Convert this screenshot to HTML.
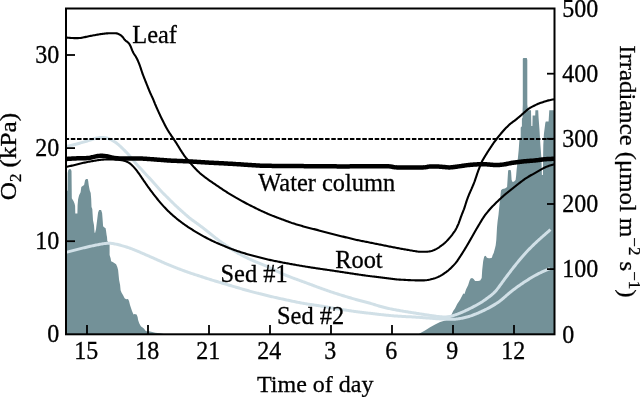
<!DOCTYPE html>
<html><head><meta charset="utf-8"><style>
html,body{margin:0;padding:0;background:#fff;width:640px;height:398px;overflow:hidden;font-family:"Liberation Serif",serif}
svg{display:block}
text{filter:grayscale(1)}
</style></head><body>
<svg width="640" height="398" viewBox="0 0 640 398">
<polygon points="66.0,334.3 66.0,190.7 67.5,190.7 67.7,173.0 68.3,170.0 69.5,169.0 70.8,169.2 71.5,171.0 71.8,198.2 73.6,201.3 74.6,203.8 75.1,206.0 75.3,213.6 77.4,213.6 77.6,205.0 78.1,199.2 79.1,195.2 80.6,192.2 81.3,187.0 82.6,186.1 84.1,185.1 85.1,180.1 86.2,179.1 87.7,179.1 88.2,181.1 88.7,185.1 89.7,190.2 90.7,193.0 91.2,199.0 91.5,207.0 92.3,209.0 93.0,220.2 94.0,225.2 94.5,232.3 95.0,233.3 96.0,229.2 97.1,220.2 98.1,212.6 99.1,210.1 101.1,210.1 102.1,213.1 102.6,219.2 103.1,226.2 104.1,227.2 105.6,228.2 106.1,231.3 106.6,235.0 107.0,237.0 107.3,241.0 109.6,244.0 109.6,255.0 110.6,258.2 111.1,261.2 113.1,262.2 116.1,264.2 117.3,267.0 118.1,270.0 118.6,275.1 119.1,280.1 120.1,285.1 120.6,290.2 121.6,292.7 123.1,295.2 124.6,298.2 126.1,299.2 128.0,299.0 129.0,301.0 130.0,305.0 131.0,308.0 132.0,311.1 133.5,314.6 134.5,314.1 136.6,314.6 137.6,317.1 138.1,320.1 139.1,323.1 140.1,325.1 141.1,326.6 142.6,327.6 144.1,328.7 145.1,330.2 146.1,331.2 149.1,331.2 151.1,331.7 155.2,332.7 160.2,333.2 165.0,334.3" fill="#739198"/>
<polygon points="418.5,334.3 420.0,333.2 425.0,330.6 430.1,327.2 435.1,324.6 440.1,322.1 445.2,320.6 450.2,317.6 453.2,311.1 455.0,308.5 457.2,304.0 460.2,299.6 463.3,293.6 464.5,294.0 466.1,289.2 468.1,285.2 469.6,280.6 470.6,278.6 472.1,278.1 473.6,279.1 475.1,281.1 478.1,281.1 480.2,280.6 481.7,278.1 482.2,270.1 483.2,261.0 484.2,256.5 485.7,255.8 486.9,257.7 488.8,258.3 490.0,258.3 491.9,257.7 492.6,255.2 493.8,252.7 495.1,247.7 495.7,245.2 496.3,240.1 497.0,227.6 497.6,221.3 498.5,214.7 500.0,199.6 501.0,190.2 502.5,189.1 505.0,188.6 507.1,187.1 508.1,171.1 508.6,170.0 510.6,170.0 511.1,172.1 511.6,180.1 512.6,182.1 514.1,181.6 515.6,180.1 516.1,176.1 516.6,170.0 517.3,164.0 518.7,150.0 519.4,140.1 520.7,137.6 520.7,127.6 521.9,126.3 521.9,118.8 522.6,117.5 522.6,110.3 522.8,104.6 522.8,58.8 523.4,57.9 526.8,57.9 527.3,60.0 527.3,104.6 528.0,110.3 531.0,110.3 531.3,126.0 532.4,126.0 532.6,115.5 535.2,115.5 535.4,110.3 538.2,110.3 538.6,118.0 539.5,130.0 540.4,145.0 541.4,158.0 541.9,175.0 542.9,175.0 543.1,158.0 543.3,145.0 543.9,134.0 545.3,123.0 545.8,121.6 548.6,121.6 549.3,110.3 554.5,110.3 554.5,334.3" fill="#739198"/>
<path d="M66.00,146.50 L66.98,146.28 L67.95,146.06 L68.93,145.84 L69.90,145.62 L70.88,145.40 L71.85,145.17 L72.82,144.94 L73.79,144.70 L74.76,144.46 L75.73,144.21 L76.70,143.96 L77.67,143.71 L78.63,143.45 L79.60,143.19 L80.56,142.92 L81.52,142.65 L82.49,142.38 L83.45,142.10 L84.41,141.82 L85.36,141.53 L86.32,141.25 L87.28,140.95 L88.23,140.65 L89.18,140.35 L90.14,140.05 L91.09,139.74 L92.04,139.43 L92.99,139.13 L93.94,138.84 L94.89,138.56 L95.85,138.30 L96.82,138.07 L97.78,137.86 L98.75,137.69 L99.72,137.56 L100.70,137.47 L101.67,137.43 L102.64,137.44 L103.61,137.50 L104.57,137.62 L105.53,137.79 L106.48,138.01 L107.42,138.27 L108.35,138.59 L109.27,138.94 L110.17,139.33 L111.07,139.75 L111.95,140.20 L112.82,140.68 L113.67,141.18 L114.51,141.71 L115.34,142.26 L116.15,142.84 L116.94,143.43 L117.72,144.05 L118.48,144.69 L119.23,145.34 L119.97,146.01 L120.70,146.69 L121.42,147.38 L122.14,148.07 L122.85,148.77 L123.56,149.48 L124.27,150.18 L124.97,150.89 L125.67,151.61 L126.37,152.32 L127.06,153.05 L127.74,153.77 L128.42,154.51 L129.08,155.25 L129.74,156.00 L130.39,156.76 L131.04,157.52 L131.67,158.29 L132.31,159.06 L132.94,159.84 L133.58,160.61 L134.21,161.38 L134.85,162.15 L135.50,162.91 L136.15,163.67 L136.81,164.42 L137.47,165.17 L138.14,165.91 L138.81,166.65 L139.49,167.38 L140.17,168.12 L140.84,168.85 L141.52,169.58 L142.20,170.32 L142.87,171.05 L143.55,171.79 L144.23,172.53 L144.90,173.26 L145.58,174.00 L146.26,174.73 L146.95,175.46 L147.63,176.18 L148.31,176.91 L149.00,177.64 L149.68,178.38 L150.36,179.11 L151.03,179.85 L151.70,180.59 L152.37,181.34 L153.03,182.08 L153.69,182.83 L154.35,183.58 L155.01,184.33 L155.67,185.09 L156.33,185.84 L156.99,186.59 L157.65,187.34 L158.32,188.08 L158.99,188.83 L159.66,189.56 L160.34,190.30 L161.03,191.02 L161.72,191.75 L162.41,192.46 L163.11,193.18 L163.82,193.89 L164.52,194.60 L165.23,195.30 L165.94,196.01 L166.65,196.71 L167.36,197.42 L168.07,198.12 L168.78,198.82 L169.49,199.53 L170.20,200.23 L170.90,200.94 L171.61,201.65 L172.32,202.35 L173.03,203.05 L173.75,203.75 L174.46,204.45 L175.18,205.14 L175.91,205.83 L176.64,206.51 L177.37,207.19 L178.11,207.87 L178.85,208.54 L179.59,209.21 L180.33,209.88 L181.08,210.55 L181.82,211.21 L182.57,211.88 L183.32,212.54 L184.07,213.21 L184.81,213.87 L185.56,214.53 L186.31,215.19 L187.07,215.85 L187.83,216.50 L188.59,217.14 L189.36,217.78 L190.14,218.40 L190.92,219.02 L191.72,219.62 L192.51,220.22 L193.32,220.81 L194.13,221.40 L194.94,221.98 L195.75,222.57 L196.56,223.15 L197.37,223.73 L198.18,224.32 L198.99,224.91 L199.80,225.50 L200.60,226.10 L201.40,226.69 L202.20,227.30 L203.00,227.90 L203.79,228.50 L204.59,229.11 L205.38,229.73 L206.16,230.34 L206.95,230.96 L207.73,231.58 L208.51,232.21 L209.29,232.84 L210.06,233.47 L210.84,234.10 L211.61,234.73 L212.39,235.36 L213.17,235.99 L213.95,236.61 L214.73,237.23 L215.52,237.85 L216.31,238.46 L217.11,239.06 L217.91,239.66 L218.71,240.26 L219.52,240.85 L220.33,241.44 L221.14,242.02 L221.95,242.60 L222.77,243.17 L223.59,243.74 L224.41,244.32 L225.23,244.89 L226.05,245.46 L226.88,246.03 L227.70,246.60 L228.52,247.17 L229.34,247.74 L230.17,248.30 L230.99,248.86 L231.83,249.41 L232.66,249.96 L233.50,250.50 L234.35,251.03 L235.20,251.56 L236.05,252.07 L236.91,252.58 L237.78,253.08 L238.65,253.57 L239.53,254.05 L240.41,254.52 L241.29,254.99 L242.18,255.45 L243.07,255.91 L243.96,256.36 L244.85,256.80 L245.75,257.25 L246.65,257.69 L247.55,258.12 L248.45,258.55 L249.35,258.98 L250.26,259.40 L251.17,259.81 L252.08,260.22 L253.00,260.62 L253.92,261.01 L254.84,261.40 L255.76,261.78 L256.69,262.16 L257.61,262.53 L258.54,262.91 L259.47,263.28 L260.40,263.66 L261.32,264.04 L262.25,264.42 L263.17,264.80 L264.09,265.18 L265.01,265.57 L265.93,265.97 L266.85,266.37 L267.76,266.78 L268.67,267.19 L269.58,267.60 L270.48,268.03 L271.39,268.46 L272.29,268.89 L273.19,269.33 L274.08,269.77 L274.98,270.22 L275.87,270.66 L276.77,271.11 L277.67,271.55 L278.56,271.99 L279.46,272.42 L280.37,272.85 L281.27,273.27 L282.18,273.68 L283.10,274.09 L284.01,274.48 L284.93,274.87 L285.86,275.25 L286.79,275.62 L287.72,275.99 L288.65,276.35 L289.58,276.71 L290.51,277.07 L291.45,277.43 L292.38,277.78 L293.32,278.13 L294.25,278.49 L295.19,278.84 L296.13,279.18 L297.07,279.53 L298.01,279.87 L298.95,280.21 L299.89,280.56 L300.83,280.90 L301.77,281.24 L302.71,281.58 L303.65,281.92 L304.59,282.26 L305.53,282.60 L306.46,282.94 L307.40,283.29 L308.34,283.63 L309.28,283.98 L310.22,284.33 L311.15,284.68 L312.09,285.03 L313.03,285.38 L313.96,285.73 L314.90,286.08 L315.84,286.43 L316.77,286.78 L317.71,287.13 L318.65,287.47 L319.59,287.81 L320.53,288.16 L321.47,288.50 L322.41,288.83 L323.35,289.17 L324.30,289.51 L325.24,289.84 L326.18,290.17 L327.12,290.50 L328.07,290.83 L329.01,291.16 L329.96,291.48 L330.91,291.81 L331.85,292.12 L332.80,292.44 L333.75,292.75 L334.70,293.06 L335.65,293.37 L336.61,293.67 L337.56,293.97 L338.51,294.27 L339.47,294.57 L340.42,294.87 L341.38,295.16 L342.33,295.46 L343.29,295.75 L344.25,296.05 L345.20,296.34 L346.16,296.63 L347.12,296.92 L348.08,297.20 L349.03,297.49 L349.99,297.77 L350.95,298.06 L351.91,298.34 L352.87,298.62 L353.83,298.90 L354.79,299.17 L355.75,299.44 L356.72,299.71 L357.68,299.98 L358.65,300.24 L359.61,300.49 L360.58,300.74 L361.55,300.99 L362.52,301.24 L363.49,301.49 L364.46,301.73 L365.42,301.98 L366.39,302.23 L367.36,302.49 L368.32,302.75 L369.29,303.02 L370.25,303.29 L371.21,303.57 L372.16,303.86 L373.12,304.16 L374.07,304.46 L375.02,304.76 L375.98,305.06 L376.93,305.36 L377.88,305.66 L378.84,305.96 L379.79,306.25 L380.75,306.53 L381.71,306.80 L382.68,307.06 L383.64,307.31 L384.61,307.55 L385.58,307.79 L386.56,308.01 L387.53,308.22 L388.51,308.44 L389.49,308.64 L390.47,308.85 L391.45,309.04 L392.43,309.24 L393.41,309.43 L394.39,309.62 L395.37,309.81 L396.36,309.99 L397.34,310.17 L398.32,310.35 L399.31,310.52 L400.29,310.69 L401.28,310.86 L402.26,311.03 L403.25,311.19 L404.24,311.36 L405.22,311.52 L406.21,311.68 L407.20,311.84 L408.18,312.00 L409.17,312.16 L410.16,312.32 L411.15,312.48 L412.13,312.64 L413.12,312.79 L414.11,312.95 L415.10,313.10 L416.09,313.25 L417.07,313.40 L418.06,313.56 L419.05,313.71 L420.04,313.86 L421.03,314.01 L422.02,314.16 L423.01,314.31 L423.99,314.46 L424.98,314.61 L425.97,314.76 L426.96,314.92 L427.95,315.07 L428.94,315.22 L429.92,315.37 L430.91,315.53 L431.90,315.68 L432.89,315.82 L433.88,315.97 L434.87,316.10 L435.86,316.24 L436.85,316.37 L437.84,316.49 L438.83,316.60 L439.83,316.71 L440.82,316.80 L441.81,316.87 L442.80,316.92 L443.79,316.94 L444.78,316.94 L445.76,316.90 L446.75,316.83 L447.73,316.72 L448.71,316.58 L449.68,316.41 L450.65,316.21 L451.62,315.98 L452.58,315.72 L453.54,315.45 L454.49,315.15 L455.44,314.84 L456.38,314.52 L457.32,314.18 L458.25,313.82 L459.18,313.46 L460.11,313.08 L461.03,312.70 L461.95,312.31 L462.86,311.91 L463.78,311.50 L464.69,311.08 L465.59,310.66 L466.50,310.23 L467.40,309.80 L468.30,309.37 L469.20,308.93 L470.09,308.48 L470.98,308.03 L471.88,307.58 L472.76,307.12 L473.65,306.66 L474.54,306.20 L475.42,305.73 L476.30,305.25 L477.17,304.77 L478.04,304.28 L478.91,303.78 L479.76,303.27 L480.62,302.75 L481.46,302.22 L482.30,301.68 L483.13,301.12 L483.96,300.56 L484.78,299.99 L485.60,299.42 L486.41,298.84 L487.22,298.25 L488.02,297.66 L488.82,297.06 L489.62,296.45 L490.40,295.84 L491.18,295.22 L491.95,294.59 L492.70,293.94 L493.43,293.28 L494.15,292.59 L494.85,291.89 L495.52,291.16 L496.17,290.42 L496.81,289.66 L497.43,288.88 L498.04,288.10 L498.64,287.30 L499.24,286.50 L499.83,285.69 L500.42,284.89 L501.00,284.08 L501.59,283.27 L502.18,282.46 L502.77,281.65 L503.36,280.84 L503.95,280.04 L504.54,279.23 L505.13,278.43 L505.73,277.62 L506.33,276.82 L506.93,276.02 L507.53,275.23 L508.14,274.43 L508.74,273.63 L509.35,272.84 L509.96,272.04 L510.56,271.25 L511.17,270.45 L511.78,269.66 L512.39,268.87 L513.00,268.08 L513.62,267.29 L514.23,266.50 L514.85,265.72 L515.48,264.94 L516.11,264.16 L516.74,263.38 L517.37,262.61 L518.00,261.84 L518.64,261.07 L519.28,260.30 L519.92,259.53 L520.56,258.76 L521.21,258.00 L521.85,257.23 L522.50,256.47 L523.15,255.72 L523.81,254.96 L524.47,254.21 L525.14,253.47 L525.81,252.73 L526.49,252.00 L527.18,251.27 L527.87,250.55 L528.56,249.83 L529.26,249.12 L529.96,248.40 L530.66,247.69 L531.37,246.98 L532.08,246.28 L532.79,245.57 L533.50,244.87 L534.22,244.18 L534.94,243.49 L535.66,242.80 L536.39,242.11 L537.13,241.44 L537.86,240.76 L538.60,240.09 L539.35,239.42 L540.09,238.75 L540.84,238.08 L541.58,237.42 L542.33,236.75 L543.08,236.09 L543.82,235.43 L544.57,234.77 L545.32,234.11 L546.07,233.46 L546.81,232.81 L547.55,232.16 L548.29,231.52 L549.03,230.88 L549.77,230.24 L550.50,229.60" fill="none" stroke="#d1e0e7" stroke-width="3.0" stroke-linejoin="round"/>
<path d="M66.00,252.40 L66.97,252.14 L67.93,251.89 L68.90,251.63 L69.87,251.37 L70.83,251.12 L71.80,250.86 L72.77,250.61 L73.73,250.35 L74.70,250.10 L75.67,249.85 L76.64,249.60 L77.61,249.36 L78.58,249.11 L79.55,248.87 L80.52,248.63 L81.49,248.39 L82.46,248.15 L83.43,247.91 L84.40,247.68 L85.38,247.45 L86.35,247.22 L87.32,246.99 L88.30,246.76 L89.27,246.54 L90.25,246.32 L91.22,246.11 L92.20,245.89 L93.18,245.69 L94.16,245.48 L95.13,245.29 L96.11,245.09 L97.09,244.90 L98.07,244.71 L99.05,244.52 L100.03,244.33 L101.01,244.14 L101.99,243.96 L102.97,243.79 L103.94,243.63 L104.93,243.50 L105.91,243.39 L106.89,243.31 L107.88,243.27 L108.87,243.26 L109.85,243.29 L110.84,243.36 L111.82,243.45 L112.81,243.58 L113.79,243.73 L114.77,243.91 L115.74,244.11 L116.72,244.32 L117.69,244.55 L118.66,244.79 L119.62,245.04 L120.59,245.30 L121.55,245.57 L122.52,245.84 L123.48,246.11 L124.43,246.40 L125.39,246.68 L126.35,246.98 L127.30,247.28 L128.25,247.59 L129.19,247.91 L130.13,248.25 L131.07,248.59 L132.01,248.94 L132.94,249.30 L133.86,249.68 L134.79,250.05 L135.71,250.44 L136.63,250.82 L137.56,251.21 L138.48,251.60 L139.40,251.99 L140.32,252.38 L141.23,252.78 L142.15,253.17 L143.07,253.57 L143.99,253.97 L144.91,254.37 L145.82,254.77 L146.74,255.17 L147.65,255.57 L148.57,255.97 L149.48,256.37 L150.40,256.78 L151.31,257.18 L152.23,257.58 L153.14,257.99 L154.06,258.39 L154.97,258.80 L155.89,259.21 L156.80,259.61 L157.71,260.02 L158.63,260.43 L159.54,260.83 L160.45,261.24 L161.37,261.65 L162.28,262.06 L163.19,262.46 L164.11,262.86 L165.03,263.27 L165.94,263.66 L166.86,264.06 L167.78,264.45 L168.70,264.84 L169.63,265.22 L170.55,265.60 L171.48,265.98 L172.40,266.35 L173.33,266.73 L174.26,267.10 L175.19,267.47 L176.12,267.83 L177.05,268.20 L177.98,268.56 L178.92,268.92 L179.85,269.27 L180.79,269.62 L181.72,269.97 L182.66,270.31 L183.60,270.65 L184.55,270.99 L185.49,271.32 L186.43,271.66 L187.37,271.99 L188.32,272.32 L189.26,272.65 L190.21,272.97 L191.15,273.30 L192.10,273.62 L193.05,273.94 L194.00,274.25 L194.95,274.56 L195.90,274.88 L196.85,275.18 L197.80,275.49 L198.75,275.80 L199.70,276.11 L200.65,276.41 L201.61,276.72 L202.56,277.03 L203.51,277.34 L204.46,277.65 L205.41,277.96 L206.36,278.27 L207.31,278.58 L208.26,278.88 L209.22,279.19 L210.17,279.49 L211.12,279.79 L212.08,280.09 L213.03,280.38 L213.99,280.67 L214.95,280.96 L215.91,281.24 L216.86,281.53 L217.82,281.81 L218.78,282.10 L219.74,282.38 L220.70,282.67 L221.66,282.95 L222.62,283.23 L223.58,283.52 L224.53,283.80 L225.49,284.09 L226.45,284.37 L227.41,284.65 L228.37,284.94 L229.33,285.22 L230.29,285.51 L231.25,285.79 L232.21,286.07 L233.16,286.36 L234.12,286.64 L235.08,286.92 L236.04,287.21 L237.00,287.49 L237.96,287.78 L238.92,288.06 L239.88,288.34 L240.84,288.63 L241.80,288.91 L242.76,289.19 L243.72,289.47 L244.68,289.74 L245.64,290.02 L246.60,290.29 L247.56,290.56 L248.53,290.82 L249.49,291.08 L250.46,291.34 L251.43,291.59 L252.39,291.85 L253.36,292.10 L254.33,292.35 L255.30,292.59 L256.27,292.84 L257.24,293.09 L258.21,293.33 L259.18,293.58 L260.14,293.82 L261.11,294.07 L262.08,294.31 L263.05,294.55 L264.03,294.80 L265.00,295.04 L265.97,295.28 L266.94,295.52 L267.91,295.75 L268.88,295.99 L269.85,296.23 L270.82,296.46 L271.80,296.69 L272.77,296.91 L273.75,297.14 L274.72,297.36 L275.70,297.58 L276.67,297.79 L277.65,298.01 L278.63,298.22 L279.60,298.43 L280.58,298.64 L281.56,298.86 L282.54,299.07 L283.51,299.28 L284.49,299.49 L285.47,299.70 L286.45,299.91 L287.42,300.13 L288.40,300.34 L289.38,300.55 L290.36,300.76 L291.33,300.97 L292.31,301.18 L293.29,301.38 L294.27,301.59 L295.25,301.79 L296.23,301.99 L297.21,302.19 L298.19,302.38 L299.17,302.57 L300.15,302.76 L301.14,302.94 L302.12,303.12 L303.10,303.30 L304.09,303.47 L305.07,303.64 L306.06,303.81 L307.04,303.97 L308.03,304.13 L309.02,304.28 L310.01,304.43 L311.00,304.58 L311.99,304.72 L312.98,304.86 L313.97,305.00 L314.96,305.13 L315.95,305.27 L316.94,305.42 L317.93,305.56 L318.92,305.71 L319.90,305.86 L320.89,306.02 L321.88,306.19 L322.86,306.35 L323.85,306.52 L324.83,306.70 L325.82,306.87 L326.80,307.05 L327.78,307.23 L328.77,307.40 L329.75,307.58 L330.74,307.75 L331.72,307.92 L332.71,308.09 L333.70,308.25 L334.68,308.41 L335.67,308.57 L336.66,308.72 L337.65,308.88 L338.63,309.03 L339.62,309.18 L340.61,309.33 L341.60,309.48 L342.59,309.63 L343.58,309.78 L344.57,309.93 L345.55,310.08 L346.54,310.23 L347.53,310.38 L348.52,310.53 L349.51,310.68 L350.50,310.83 L351.49,310.98 L352.48,311.13 L353.47,311.27 L354.46,311.42 L355.44,311.56 L356.44,311.69 L357.43,311.83 L358.42,311.96 L359.41,312.08 L360.40,312.20 L361.39,312.32 L362.39,312.44 L363.38,312.55 L364.37,312.67 L365.37,312.78 L366.36,312.89 L367.36,313.01 L368.35,313.12 L369.34,313.24 L370.34,313.35 L371.33,313.47 L372.32,313.58 L373.32,313.70 L374.31,313.82 L375.30,313.94 L376.29,314.05 L377.29,314.17 L378.28,314.29 L379.27,314.40 L380.27,314.52 L381.26,314.63 L382.26,314.74 L383.25,314.84 L384.24,314.95 L385.24,315.05 L386.23,315.15 L387.23,315.25 L388.22,315.34 L389.22,315.44 L390.21,315.53 L391.21,315.62 L392.21,315.71 L393.20,315.80 L394.20,315.88 L395.20,315.96 L396.19,316.03 L397.19,316.10 L398.19,316.17 L399.19,316.24 L400.18,316.30 L401.18,316.36 L402.18,316.42 L403.18,316.47 L404.18,316.53 L405.18,316.58 L406.17,316.63 L407.17,316.67 L408.17,316.72 L409.17,316.77 L410.17,316.81 L411.17,316.86 L412.17,316.91 L413.17,316.96 L414.16,317.01 L415.16,317.07 L416.16,317.14 L417.16,317.20 L418.15,317.27 L419.15,317.34 L420.15,317.42 L421.15,317.50 L422.14,317.57 L423.14,317.65 L424.14,317.73 L425.13,317.81 L426.13,317.89 L427.13,317.97 L428.12,318.05 L429.12,318.12 L430.12,318.20 L431.12,318.28 L432.11,318.35 L433.11,318.43 L434.11,318.50 L435.10,318.57 L436.10,318.64 L437.10,318.70 L438.10,318.77 L439.10,318.83 L440.09,318.89 L441.09,318.94 L442.09,318.99 L443.09,319.04 L444.09,319.09 L445.09,319.13 L446.09,319.17 L447.09,319.20 L448.08,319.23 L449.08,319.25 L450.08,319.26 L451.08,319.26 L452.08,319.25 L453.07,319.23 L454.07,319.19 L455.07,319.13 L456.06,319.06 L457.05,318.96 L458.04,318.85 L459.03,318.71 L460.01,318.56 L460.99,318.39 L461.97,318.21 L462.95,318.01 L463.92,317.79 L464.89,317.56 L465.86,317.31 L466.83,317.05 L467.79,316.78 L468.74,316.49 L469.69,316.20 L470.64,315.88 L471.59,315.56 L472.53,315.22 L473.46,314.88 L474.40,314.52 L475.33,314.16 L476.25,313.79 L477.18,313.41 L478.10,313.02 L479.02,312.63 L479.93,312.23 L480.85,311.82 L481.75,311.40 L482.66,310.98 L483.56,310.55 L484.46,310.11 L485.36,309.67 L486.25,309.22 L487.14,308.77 L488.03,308.31 L488.91,307.84 L489.79,307.37 L490.66,306.88 L491.53,306.39 L492.40,305.89 L493.26,305.39 L494.12,304.87 L494.97,304.35 L495.82,303.82 L496.66,303.29 L497.49,302.74 L498.31,302.18 L499.13,301.60 L499.93,301.01 L500.72,300.41 L501.50,299.79 L502.26,299.15 L503.02,298.51 L503.78,297.86 L504.53,297.20 L505.28,296.54 L506.03,295.88 L506.78,295.22 L507.53,294.56 L508.29,293.91 L509.06,293.27 L509.83,292.63 L510.60,292.00 L511.38,291.38 L512.17,290.76 L512.96,290.15 L513.75,289.54 L514.55,288.94 L515.35,288.34 L516.15,287.75 L516.96,287.16 L517.78,286.58 L518.59,286.00 L519.41,285.43 L520.23,284.86 L521.06,284.29 L521.88,283.73 L522.71,283.16 L523.54,282.61 L524.37,282.05 L525.21,281.51 L526.05,280.96 L526.89,280.43 L527.73,279.89 L528.58,279.36 L529.43,278.84 L530.29,278.32 L531.14,277.80 L532.00,277.29 L532.86,276.79 L533.73,276.29 L534.60,275.79 L535.47,275.31 L536.35,274.83 L537.23,274.37 L538.12,273.90 L539.01,273.45 L539.90,273.00 L540.80,272.56 L541.69,272.13 L542.59,271.71 L543.48,271.29 L544.38,270.89 L545.26,270.51 L546.14,270.13 L547.01,269.77 L547.88,269.43 L548.73,269.09 L549.58,268.76 L550.00,268.60" fill="none" stroke="#d1e0e7" stroke-width="3.0" stroke-linejoin="round"/>
<line x1="66" y1="139" x2="554.5" y2="139" stroke="#000" stroke-width="2.1" stroke-dasharray="4.5 1.702" stroke-dashoffset="1.39"/>
<path d="M66.00,159.00 L67.00,158.93 L68.00,158.86 L68.99,158.79 L69.99,158.72 L70.99,158.65 L71.99,158.59 L72.98,158.53 L73.98,158.47 L74.98,158.43 L75.98,158.39 L76.98,158.37 L77.98,158.35 L78.98,158.33 L79.98,158.31 L80.98,158.30 L81.98,158.28 L82.98,158.26 L83.98,158.24 L84.98,158.21 L85.97,158.17 L86.97,158.09 L87.96,157.99 L88.95,157.86 L89.93,157.71 L90.92,157.53 L91.89,157.32 L92.86,157.09 L93.83,156.85 L94.80,156.61 L95.77,156.39 L96.75,156.21 L97.73,156.06 L98.72,155.94 L99.72,155.87 L100.71,155.83 L101.71,155.82 L102.70,155.85 L103.70,155.91 L104.69,155.99 L105.68,156.11 L106.66,156.27 L107.64,156.47 L108.61,156.69 L109.58,156.92 L110.56,157.15 L111.53,157.37 L112.51,157.58 L113.49,157.78 L114.47,157.95 L115.46,158.10 L116.45,158.22 L117.44,158.30 L118.44,158.37 L119.43,158.41 L120.43,158.45 L121.43,158.48 L122.43,158.51 L123.43,158.54 L124.43,158.56 L125.43,158.58 L126.43,158.58 L127.43,158.58 L128.43,158.58 L129.43,158.57 L130.43,158.57 L131.43,158.56 L132.43,158.56 L133.43,158.55 L134.43,158.54 L135.43,158.54 L136.43,158.53 L137.43,158.53 L138.43,158.52 L139.43,158.52 L140.43,158.53 L141.43,158.55 L142.43,158.58 L143.43,158.63 L144.42,158.69 L145.42,158.76 L146.42,158.83 L147.41,158.91 L148.41,158.98 L149.41,159.06 L150.41,159.13 L151.40,159.21 L152.40,159.28 L153.40,159.35 L154.40,159.43 L155.39,159.50 L156.39,159.58 L157.39,159.65 L158.38,159.73 L159.38,159.80 L160.38,159.88 L161.38,159.95 L162.37,160.03 L163.37,160.10 L164.37,160.18 L165.36,160.25 L166.36,160.33 L167.36,160.40 L168.36,160.47 L169.35,160.53 L170.35,160.59 L171.35,160.65 L172.35,160.69 L173.35,160.74 L174.35,160.78 L175.35,160.82 L176.35,160.86 L177.35,160.90 L178.34,160.94 L179.34,160.98 L180.34,161.02 L181.34,161.06 L182.34,161.10 L183.34,161.14 L184.34,161.19 L185.34,161.23 L186.34,161.27 L187.34,161.31 L188.34,161.36 L189.33,161.41 L190.33,161.46 L191.33,161.52 L192.33,161.58 L193.33,161.65 L194.32,161.71 L195.32,161.78 L196.32,161.85 L197.32,161.91 L198.32,161.98 L199.31,162.04 L200.31,162.11 L201.31,162.18 L202.31,162.24 L203.30,162.31 L204.30,162.37 L205.30,162.44 L206.30,162.50 L207.30,162.56 L208.30,162.62 L209.29,162.67 L210.29,162.72 L211.29,162.77 L212.29,162.82 L213.29,162.87 L214.29,162.92 L215.29,162.97 L216.29,163.02 L217.28,163.07 L218.28,163.12 L219.28,163.17 L220.28,163.22 L221.28,163.27 L222.28,163.32 L223.28,163.37 L224.27,163.43 L225.27,163.48 L226.27,163.53 L227.27,163.59 L228.27,163.64 L229.27,163.69 L230.27,163.75 L231.26,163.81 L232.26,163.87 L233.26,163.93 L234.26,163.99 L235.26,164.05 L236.25,164.12 L237.25,164.18 L238.25,164.25 L239.25,164.31 L240.25,164.37 L241.24,164.44 L242.24,164.50 L243.24,164.57 L244.24,164.63 L245.24,164.69 L246.23,164.76 L247.23,164.82 L248.23,164.89 L249.23,164.95 L250.23,165.01 L251.22,165.08 L252.22,165.14 L253.22,165.21 L254.22,165.27 L255.22,165.33 L256.21,165.40 L257.21,165.46 L258.21,165.52 L259.21,165.59 L260.21,165.65 L261.20,165.70 L262.20,165.74 L263.20,165.78 L264.20,165.80 L265.20,165.82 L266.20,165.83 L267.20,165.84 L268.20,165.85 L269.20,165.85 L270.20,165.86 L271.20,165.87 L272.20,165.88 L273.20,165.89 L274.20,165.89 L275.20,165.90 L276.20,165.91 L277.20,165.92 L278.20,165.93 L279.20,165.93 L280.20,165.94 L281.20,165.95 L282.20,165.96 L283.20,165.97 L284.20,165.97 L285.20,165.98 L286.20,165.99 L287.20,166.00 L288.20,166.01 L289.20,166.01 L290.20,166.02 L291.20,166.03 L292.20,166.04 L293.20,166.05 L294.20,166.05 L295.20,166.06 L296.20,166.07 L297.20,166.08 L298.20,166.09 L299.20,166.09 L300.20,166.10 L301.20,166.11 L302.20,166.12 L303.20,166.12 L304.20,166.13 L305.20,166.14 L306.20,166.15 L307.20,166.15 L308.20,166.16 L309.20,166.17 L310.20,166.18 L311.20,166.18 L312.20,166.19 L313.20,166.20 L314.20,166.21 L315.20,166.21 L316.20,166.22 L317.20,166.23 L318.20,166.24 L319.20,166.24 L320.20,166.25 L321.20,166.26 L322.20,166.27 L323.20,166.27 L324.20,166.28 L325.20,166.29 L326.20,166.30 L327.20,166.30 L328.20,166.31 L329.20,166.32 L330.20,166.33 L331.20,166.33 L332.20,166.34 L333.20,166.35 L334.20,166.36 L335.20,166.36 L336.20,166.37 L337.20,166.38 L338.20,166.38 L339.20,166.39 L340.20,166.39 L341.20,166.39 L342.20,166.39 L343.20,166.39 L344.20,166.39 L345.20,166.39 L346.20,166.38 L347.20,166.38 L348.20,166.38 L349.20,166.38 L350.20,166.37 L351.20,166.37 L352.20,166.37 L353.20,166.37 L354.20,166.36 L355.20,166.36 L356.20,166.36 L357.20,166.36 L358.20,166.35 L359.20,166.35 L360.20,166.35 L361.20,166.35 L362.20,166.34 L363.20,166.34 L364.20,166.34 L365.20,166.34 L366.20,166.33 L367.20,166.33 L368.20,166.33 L369.20,166.33 L370.20,166.32 L371.20,166.32 L372.20,166.32 L373.20,166.32 L374.20,166.31 L375.20,166.31 L376.20,166.31 L377.20,166.31 L378.20,166.31 L379.20,166.30 L380.20,166.30 L381.20,166.30 L382.20,166.30 L383.20,166.30 L384.20,166.30 L385.20,166.30 L386.20,166.30 L387.20,166.31 L388.19,166.32 L389.19,166.37 L390.17,166.45 L391.15,166.59 L392.11,166.77 L393.08,166.97 L394.05,167.15 L395.03,167.29 L396.01,167.37 L397.01,167.42 L398.00,167.44 L399.00,167.46 L400.00,167.47 L401.00,167.49 L402.00,167.50 L403.00,167.51 L404.00,167.53 L405.00,167.54 L406.00,167.55 L407.00,167.56 L408.00,167.57 L409.00,167.58 L410.00,167.58 L411.00,167.58 L412.00,167.57 L413.00,167.56 L414.00,167.55 L415.00,167.54 L416.00,167.52 L417.00,167.51 L418.00,167.50 L419.00,167.49 L420.00,167.47 L421.00,167.46 L422.00,167.44 L423.00,167.42 L423.99,167.37 L424.98,167.29 L425.95,167.15 L426.92,166.98 L427.89,166.78 L428.86,166.61 L429.83,166.49 L430.82,166.42 L431.81,166.40 L432.80,166.41 L433.80,166.43 L434.80,166.46 L435.80,166.49 L436.80,166.52 L437.80,166.55 L438.80,166.59 L439.80,166.65 L440.79,166.72 L441.79,166.81 L442.78,166.90 L443.78,167.00 L444.77,167.11 L445.77,167.21 L446.76,167.30 L447.76,167.37 L448.75,167.41 L449.74,167.41 L450.74,167.36 L451.73,167.27 L452.72,167.16 L453.71,167.04 L454.70,166.91 L455.70,166.79 L456.69,166.66 L457.68,166.52 L458.67,166.39 L459.66,166.25 L460.65,166.11 L461.64,165.96 L462.63,165.81 L463.62,165.67 L464.61,165.52 L465.60,165.38 L466.59,165.24 L467.58,165.12 L468.57,165.01 L469.57,164.91 L470.56,164.82 L471.56,164.74 L472.55,164.67 L473.55,164.60 L474.55,164.52 L475.55,164.46 L476.54,164.40 L477.54,164.36 L478.54,164.33 L479.54,164.31 L480.54,164.30 L481.54,164.30 L482.54,164.30 L483.54,164.30 L484.54,164.31 L485.54,164.33 L486.54,164.36 L487.54,164.41 L488.53,164.48 L489.53,164.57 L490.52,164.66 L491.52,164.76 L492.51,164.85 L493.51,164.95 L494.50,165.03 L495.50,165.09 L496.49,165.12 L497.49,165.11 L498.48,165.06 L499.47,164.97 L500.46,164.86 L501.46,164.74 L502.45,164.61 L503.44,164.47 L504.43,164.33 L505.41,164.16 L506.39,163.98 L507.38,163.79 L508.36,163.59 L509.33,163.39 L510.31,163.19 L511.30,163.01 L512.28,162.84 L513.27,162.68 L514.26,162.54 L515.25,162.41 L516.24,162.29 L517.23,162.16 L518.23,162.04 L519.22,161.92 L520.21,161.79 L521.20,161.67 L522.20,161.55 L523.19,161.44 L524.18,161.33 L525.18,161.23 L526.17,161.14 L527.17,161.05 L528.17,160.98 L529.16,160.91 L530.16,160.83 L531.16,160.76 L532.16,160.69 L533.15,160.62 L534.15,160.54 L535.15,160.46 L536.14,160.36 L537.13,160.24 L538.12,160.12 L539.12,159.98 L540.11,159.84 L541.10,159.70 L542.09,159.57 L543.08,159.45 L544.07,159.35 L545.07,159.26 L546.06,159.18 L547.06,159.12 L548.06,159.06 L549.06,159.01 L550.05,158.95 L551.05,158.89 L552.04,158.84 L553.03,158.78 L554.01,158.73 L554.50,158.70" fill="none" stroke="#000" stroke-width="4.5" stroke-linejoin="round"/>
<path d="M66.00,37.60 L67.00,37.67 L68.00,37.74 L68.99,37.81 L69.99,37.88 L70.99,37.95 L71.99,38.01 L72.98,38.07 L73.98,38.12 L74.98,38.14 L75.98,38.14 L76.98,38.12 L77.98,38.09 L78.97,38.04 L79.97,37.97 L80.96,37.86 L81.94,37.71 L82.92,37.52 L83.90,37.31 L84.88,37.10 L85.85,36.88 L86.83,36.68 L87.81,36.48 L88.79,36.28 L89.77,36.09 L90.76,35.90 L91.74,35.72 L92.72,35.53 L93.70,35.34 L94.69,35.16 L95.67,34.97 L96.65,34.78 L97.63,34.60 L98.62,34.42 L99.60,34.26 L100.59,34.10 L101.58,33.97 L102.57,33.84 L103.56,33.71 L104.56,33.60 L105.55,33.50 L106.55,33.42 L107.55,33.36 L108.54,33.32 L109.54,33.28 L110.54,33.25 L111.54,33.23 L112.54,33.21 L113.54,33.21 L114.54,33.22 L115.53,33.27 L116.50,33.38 L117.45,33.60 L118.37,33.93 L119.26,34.36 L120.11,34.86 L120.92,35.42 L121.69,36.04 L122.40,36.72 L123.04,37.46 L123.62,38.25 L124.18,39.05 L124.78,39.81 L125.46,40.49 L126.22,41.10 L127.01,41.68 L127.79,42.28 L128.49,42.95 L129.10,43.70 L129.64,44.52 L130.13,45.38 L130.56,46.28 L130.96,47.19 L131.33,48.12 L131.69,49.05 L132.06,49.98 L132.45,50.90 L132.86,51.81 L133.31,52.70 L133.80,53.56 L134.33,54.40 L134.89,55.22 L135.44,56.04 L135.97,56.89 L136.45,57.76 L136.91,58.65 L137.34,59.55 L137.76,60.45 L138.16,61.37 L138.55,62.29 L138.93,63.22 L139.29,64.15 L139.65,65.08 L139.98,66.02 L140.31,66.97 L140.63,67.92 L140.94,68.87 L141.25,69.82 L141.57,70.76 L141.88,71.71 L142.20,72.66 L142.53,73.60 L142.88,74.54 L143.23,75.48 L143.60,76.41 L143.96,77.34 L144.33,78.27 L144.70,79.20 L145.07,80.13 L145.44,81.06 L145.81,81.99 L146.18,82.92 L146.55,83.84 L146.92,84.77 L147.29,85.70 L147.66,86.63 L148.03,87.56 L148.40,88.49 L148.78,89.42 L149.15,90.34 L149.53,91.27 L149.92,92.19 L150.32,93.10 L150.73,94.01 L151.16,94.92 L151.58,95.82 L152.01,96.73 L152.43,97.63 L152.84,98.55 L153.24,99.46 L153.62,100.39 L154.00,101.31 L154.37,102.24 L154.74,103.17 L155.11,104.10 L155.50,105.02 L155.89,105.94 L156.29,106.86 L156.69,107.77 L157.10,108.69 L157.51,109.60 L157.92,110.51 L158.33,111.42 L158.75,112.33 L159.16,113.24 L159.58,114.15 L159.99,115.06 L160.42,115.96 L160.85,116.87 L161.29,117.77 L161.73,118.66 L162.18,119.56 L162.63,120.45 L163.07,121.34 L163.52,122.24 L163.97,123.13 L164.42,124.03 L164.87,124.92 L165.33,125.81 L165.79,126.69 L166.27,127.57 L166.76,128.44 L167.26,129.31 L167.77,130.17 L168.29,131.02 L168.82,131.87 L169.36,132.71 L169.91,133.54 L170.46,134.38 L171.02,135.21 L171.58,136.04 L172.14,136.86 L172.71,137.69 L173.27,138.51 L173.84,139.34 L174.40,140.17 L174.96,140.99 L175.52,141.82 L176.06,142.66 L176.60,143.51 L177.12,144.36 L177.64,145.21 L178.16,146.07 L178.68,146.92 L179.20,147.78 L179.72,148.63 L180.24,149.48 L180.78,150.33 L181.32,151.17 L181.86,152.01 L182.41,152.84 L182.97,153.67 L183.52,154.51 L184.08,155.33 L184.65,156.15 L185.25,156.96 L185.86,157.74 L186.50,158.51 L187.15,159.27 L187.80,160.02 L188.46,160.78 L189.11,161.54 L189.76,162.30 L190.41,163.06 L191.06,163.82 L191.71,164.58 L192.36,165.34 L193.01,166.10 L193.67,166.85 L194.34,167.59 L195.03,168.31 L195.73,169.03 L196.44,169.73 L197.14,170.44 L197.85,171.15 L198.56,171.85 L199.28,172.55 L200.01,173.22 L200.77,173.88 L201.54,174.51 L202.32,175.13 L203.11,175.74 L203.91,176.35 L204.70,176.96 L205.49,177.57 L206.29,178.18 L207.08,178.78 L207.89,179.37 L208.70,179.96 L209.52,180.53 L210.34,181.10 L211.17,181.66 L211.99,182.23 L212.82,182.79 L213.65,183.35 L214.47,183.92 L215.30,184.48 L216.12,185.04 L216.95,185.60 L217.78,186.17 L218.61,186.73 L219.43,187.29 L220.26,187.85 L221.09,188.41 L221.92,188.97 L222.75,189.53 L223.57,190.09 L224.41,190.65 L225.24,191.19 L226.09,191.73 L226.94,192.26 L227.79,192.78 L228.65,193.29 L229.50,193.81 L230.36,194.33 L231.22,194.84 L232.07,195.36 L232.93,195.87 L233.79,196.39 L234.65,196.89 L235.51,197.40 L236.38,197.89 L237.25,198.38 L238.13,198.87 L239.00,199.36 L239.87,199.84 L240.75,200.33 L241.62,200.81 L242.50,201.30 L243.37,201.78 L244.25,202.27 L245.12,202.75 L246.00,203.23 L246.88,203.70 L247.77,204.17 L248.66,204.62 L249.55,205.07 L250.44,205.52 L251.34,205.97 L252.23,206.42 L253.13,206.86 L254.02,207.31 L254.91,207.76 L255.81,208.20 L256.70,208.65 L257.60,209.10 L258.49,209.54 L259.39,209.98 L260.30,210.41 L261.20,210.83 L262.11,211.25 L263.02,211.66 L263.93,212.07 L264.85,212.48 L265.76,212.89 L266.67,213.30 L267.58,213.71 L268.50,214.12 L269.41,214.51 L270.34,214.90 L271.26,215.27 L272.20,215.63 L273.13,215.99 L274.07,216.34 L275.00,216.70 L275.93,217.06 L276.87,217.41 L277.80,217.77 L278.74,218.12 L279.68,218.47 L280.61,218.82 L281.55,219.17 L282.49,219.52 L283.43,219.86 L284.36,220.21 L285.30,220.55 L286.24,220.90 L287.18,221.24 L288.12,221.59 L289.06,221.93 L290.00,222.28 L290.94,222.62 L291.88,222.95 L292.83,223.26 L293.78,223.57 L294.74,223.86 L295.69,224.14 L296.65,224.43 L297.61,224.71 L298.57,225.00 L299.53,225.28 L300.49,225.56 L301.45,225.85 L302.41,226.13 L303.37,226.41 L304.33,226.69 L305.29,226.95 L306.26,227.20 L307.23,227.45 L308.20,227.69 L309.17,227.93 L310.14,228.17 L311.11,228.42 L312.08,228.66 L313.05,228.90 L314.02,229.14 L314.99,229.38 L315.96,229.62 L316.93,229.87 L317.90,230.13 L318.86,230.39 L319.83,230.65 L320.79,230.92 L321.75,231.19 L322.72,231.46 L323.68,231.73 L324.64,232.00 L325.61,232.27 L326.57,232.54 L327.53,232.81 L328.50,233.07 L329.46,233.33 L330.43,233.59 L331.40,233.83 L332.37,234.07 L333.34,234.30 L334.31,234.54 L335.29,234.77 L336.26,235.00 L337.23,235.24 L338.20,235.47 L339.18,235.70 L340.15,235.94 L341.12,236.17 L342.09,236.41 L343.06,236.64 L344.03,236.88 L345.01,237.12 L345.98,237.36 L346.95,237.60 L347.92,237.84 L348.89,238.08 L349.86,238.32 L350.83,238.57 L351.80,238.81 L352.77,239.04 L353.74,239.28 L354.72,239.51 L355.69,239.72 L356.67,239.93 L357.65,240.13 L358.63,240.33 L359.61,240.52 L360.59,240.72 L361.57,240.91 L362.55,241.11 L363.53,241.31 L364.51,241.50 L365.49,241.70 L366.48,241.90 L367.46,242.09 L368.44,242.29 L369.42,242.48 L370.40,242.68 L371.38,242.88 L372.36,243.07 L373.34,243.27 L374.32,243.46 L375.30,243.66 L376.28,243.86 L377.26,244.05 L378.24,244.25 L379.22,244.44 L380.20,244.64 L381.18,244.84 L382.16,245.03 L383.15,245.23 L384.13,245.43 L385.11,245.62 L386.09,245.82 L387.07,246.01 L388.05,246.21 L389.03,246.41 L390.01,246.60 L390.99,246.80 L391.97,246.99 L392.95,247.19 L393.93,247.39 L394.91,247.58 L395.89,247.78 L396.87,247.97 L397.86,248.15 L398.84,248.33 L399.83,248.51 L400.81,248.68 L401.79,248.86 L402.78,249.03 L403.76,249.20 L404.75,249.38 L405.73,249.55 L406.72,249.72 L407.70,249.90 L408.69,250.07 L409.67,250.24 L410.66,250.41 L411.64,250.58 L412.63,250.75 L413.62,250.92 L414.60,251.08 L415.59,251.25 L416.57,251.41 L417.56,251.56 L418.55,251.67 L419.55,251.74 L420.54,251.78 L421.54,251.80 L422.54,251.80 L423.54,251.80 L424.54,251.80 L425.54,251.78 L426.54,251.75 L427.53,251.67 L428.52,251.55 L429.50,251.38 L430.48,251.18 L431.44,250.95 L432.40,250.67 L433.33,250.33 L434.24,249.94 L435.15,249.52 L436.04,249.08 L436.93,248.61 L437.79,248.11 L438.63,247.57 L439.45,247.01 L440.26,246.42 L441.06,245.83 L441.87,245.24 L442.68,244.65 L443.48,244.05 L444.26,243.43 L445.02,242.79 L445.74,242.11 L446.44,241.39 L447.11,240.66 L447.79,239.92 L448.45,239.17 L449.12,238.43 L449.78,237.68 L450.44,236.93 L451.08,236.16 L451.69,235.37 L452.29,234.57 L452.87,233.76 L453.45,232.94 L454.02,232.12 L454.59,231.30 L455.14,230.47 L455.66,229.62 L456.14,228.75 L456.60,227.86 L457.03,226.96 L457.45,226.05 L457.87,225.14 L458.27,224.23 L458.65,223.31 L459.01,222.37 L459.35,221.43 L459.69,220.49 L460.02,219.55 L460.35,218.60 L460.68,217.66 L461.02,216.72 L461.36,215.78 L461.72,214.85 L462.08,213.91 L462.45,212.99 L462.82,212.06 L463.19,211.13 L463.56,210.20 L463.92,209.27 L464.26,208.33 L464.59,207.38 L464.90,206.43 L465.20,205.48 L465.50,204.53 L465.79,203.57 L466.09,202.61 L466.39,201.66 L466.70,200.71 L467.03,199.77 L467.37,198.83 L467.72,197.89 L468.08,196.96 L468.43,196.02 L468.80,195.09 L469.18,194.17 L469.58,193.25 L469.99,192.34 L470.40,191.43 L470.81,190.52 L471.21,189.60 L471.62,188.69 L472.01,187.77 L472.40,186.85 L472.79,185.93 L473.18,185.00 L473.56,184.08 L473.94,183.16 L474.30,182.22 L474.65,181.29 L474.98,180.35 L475.31,179.40 L475.63,178.45 L475.95,177.50 L476.26,176.56 L476.58,175.61 L476.90,174.66 L477.22,173.71 L477.54,172.77 L477.87,171.82 L478.21,170.88 L478.55,169.94 L478.91,169.01 L479.27,168.08 L479.64,167.15 L480.00,166.22 L480.37,165.29 L480.74,164.36 L481.11,163.43 L481.50,162.51 L481.92,161.60 L482.37,160.72 L482.86,159.85 L483.37,158.99 L483.88,158.13 L484.40,157.27 L484.92,156.42 L485.44,155.56 L485.96,154.71 L486.48,153.86 L487.00,153.00 L487.53,152.16 L488.07,151.31 L488.61,150.47 L489.16,149.64 L489.71,148.80 L490.26,147.97 L490.81,147.13 L491.36,146.30 L491.91,145.46 L492.47,144.63 L493.04,143.81 L493.61,142.99 L494.21,142.19 L494.81,141.39 L495.41,140.59 L496.02,139.80 L496.62,139.00 L497.23,138.20 L497.84,137.41 L498.45,136.62 L499.07,135.84 L499.71,135.07 L500.35,134.30 L500.99,133.54 L501.64,132.77 L502.29,132.01 L502.94,131.25 L503.59,130.50 L504.26,129.75 L504.94,129.02 L505.63,128.30 L506.34,127.60 L507.05,126.89 L507.77,126.19 L508.48,125.50 L509.21,124.81 L509.95,124.14 L510.71,123.50 L511.50,122.89 L512.30,122.29 L513.11,121.70 L513.92,121.12 L514.73,120.53 L515.53,119.93 L516.32,119.32 L517.10,118.69 L517.86,118.05 L518.62,117.40 L519.38,116.75 L520.14,116.10 L520.90,115.44 L521.65,114.79 L522.40,114.13 L523.15,113.46 L523.90,112.80 L524.64,112.13 L525.39,111.46 L526.13,110.80 L526.88,110.13 L527.64,109.49 L528.42,108.88 L529.24,108.31 L530.09,107.80 L530.97,107.33 L531.85,106.88 L532.75,106.43 L533.64,105.98 L534.54,105.53 L535.43,105.09 L536.33,104.65 L537.23,104.22 L538.15,103.82 L539.07,103.45 L540.01,103.10 L540.95,102.78 L541.90,102.45 L542.85,102.13 L543.79,101.82 L544.74,101.50 L545.69,101.19 L546.65,100.89 L547.61,100.61 L548.57,100.37 L549.55,100.16 L550.53,99.96 L551.50,99.77 L552.44,99.59 L553.32,99.43 L554.12,99.27 L554.50,99.20" fill="none" stroke="#000" stroke-width="2.1" stroke-linejoin="round"/>
<path d="M66.00,167.00 L66.97,166.77 L67.95,166.55 L68.92,166.32 L69.90,166.09 L70.87,165.87 L71.84,165.64 L72.82,165.41 L73.79,165.18 L74.76,164.95 L75.74,164.72 L76.71,164.49 L77.68,164.25 L78.65,164.02 L79.63,163.78 L80.60,163.55 L81.57,163.32 L82.54,163.08 L83.52,162.85 L84.49,162.63 L85.47,162.41 L86.44,162.20 L87.42,162.00 L88.40,161.81 L89.38,161.62 L90.37,161.44 L91.35,161.27 L92.34,161.10 L93.32,160.93 L94.31,160.77 L95.30,160.60 L96.28,160.44 L97.27,160.29 L98.26,160.14 L99.25,160.00 L100.24,159.87 L101.23,159.76 L102.22,159.66 L103.22,159.58 L104.22,159.51 L105.21,159.46 L106.21,159.42 L107.21,159.40 L108.21,159.39 L109.21,159.40 L110.21,159.41 L111.21,159.43 L112.20,159.46 L113.20,159.49 L114.20,159.53 L115.20,159.59 L116.20,159.65 L117.19,159.72 L118.19,159.80 L119.18,159.90 L120.17,160.02 L121.16,160.15 L122.14,160.32 L123.11,160.51 L124.07,160.75 L125.01,161.03 L125.94,161.36 L126.85,161.74 L127.74,162.16 L128.60,162.63 L129.43,163.16 L130.23,163.72 L131.00,164.33 L131.75,164.98 L132.46,165.66 L133.16,166.37 L133.83,167.11 L134.49,167.86 L135.13,168.62 L135.76,169.39 L136.38,170.17 L137.00,170.96 L137.60,171.76 L138.19,172.57 L138.77,173.38 L139.35,174.19 L139.92,175.02 L140.49,175.84 L141.05,176.66 L141.61,177.49 L142.17,178.32 L142.74,179.15 L143.30,179.97 L143.86,180.80 L144.43,181.62 L144.99,182.45 L145.56,183.27 L146.13,184.09 L146.71,184.91 L147.28,185.73 L147.86,186.55 L148.44,187.36 L149.02,188.17 L149.61,188.98 L150.20,189.79 L150.80,190.59 L151.40,191.39 L152.00,192.19 L152.61,192.98 L153.22,193.77 L153.83,194.56 L154.45,195.35 L155.06,196.14 L155.68,196.92 L156.31,197.70 L156.93,198.48 L157.56,199.26 L158.19,200.04 L158.83,200.81 L159.47,201.58 L160.11,202.34 L160.76,203.10 L161.42,203.85 L162.08,204.60 L162.75,205.35 L163.42,206.09 L164.09,206.83 L164.77,207.56 L165.46,208.29 L166.15,209.01 L166.85,209.72 L167.56,210.43 L168.27,211.13 L168.98,211.83 L169.71,212.52 L170.44,213.20 L171.17,213.88 L171.91,214.55 L172.66,215.21 L173.41,215.87 L174.17,216.52 L174.93,217.17 L175.70,217.81 L176.47,218.45 L177.25,219.07 L178.03,219.70 L178.81,220.32 L179.60,220.93 L180.39,221.54 L181.19,222.15 L181.99,222.75 L182.80,223.34 L183.60,223.93 L184.42,224.51 L185.24,225.08 L186.06,225.65 L186.89,226.21 L187.72,226.77 L188.55,227.32 L189.39,227.86 L190.23,228.41 L191.07,228.94 L191.92,229.47 L192.77,230.00 L193.62,230.53 L194.47,231.05 L195.33,231.56 L196.19,232.08 L197.05,232.59 L197.91,233.10 L198.77,233.60 L199.64,234.11 L200.50,234.60 L201.37,235.10 L202.24,235.59 L203.12,236.08 L203.99,236.56 L204.87,237.04 L205.75,237.51 L206.63,237.98 L207.52,238.45 L208.40,238.91 L209.30,239.36 L210.19,239.81 L211.09,240.25 L211.99,240.68 L212.89,241.11 L213.80,241.54 L214.70,241.95 L215.61,242.37 L216.53,242.77 L217.44,243.17 L218.36,243.57 L219.28,243.97 L220.20,244.36 L221.12,244.75 L222.04,245.13 L222.97,245.52 L223.89,245.90 L224.82,246.28 L225.74,246.66 L226.67,247.04 L227.59,247.41 L228.52,247.79 L229.45,248.16 L230.38,248.52 L231.31,248.88 L232.25,249.23 L233.19,249.57 L234.13,249.91 L235.07,250.24 L236.02,250.56 L236.97,250.88 L237.92,251.20 L238.87,251.51 L239.82,251.82 L240.77,252.13 L241.72,252.43 L242.67,252.74 L243.63,253.04 L244.58,253.33 L245.54,253.62 L246.50,253.91 L247.46,254.19 L248.42,254.46 L249.38,254.74 L250.34,255.01 L251.31,255.27 L252.27,255.53 L253.24,255.79 L254.21,256.04 L255.17,256.29 L256.14,256.55 L257.11,256.79 L258.08,257.04 L259.05,257.29 L260.02,257.54 L260.99,257.78 L261.96,258.03 L262.93,258.27 L263.90,258.51 L264.87,258.75 L265.84,258.98 L266.81,259.22 L267.78,259.45 L268.76,259.67 L269.73,259.89 L270.71,260.11 L271.69,260.32 L272.67,260.52 L273.65,260.72 L274.63,260.92 L275.61,261.12 L276.59,261.32 L277.57,261.51 L278.55,261.71 L279.53,261.90 L280.51,262.10 L281.49,262.29 L282.47,262.48 L283.46,262.66 L284.44,262.85 L285.42,263.03 L286.40,263.22 L287.39,263.40 L288.37,263.58 L289.35,263.76 L290.34,263.94 L291.32,264.12 L292.31,264.30 L293.29,264.48 L294.27,264.65 L295.26,264.83 L296.24,265.00 L297.23,265.17 L298.21,265.34 L299.20,265.50 L300.19,265.67 L301.17,265.84 L302.16,266.00 L303.15,266.17 L304.13,266.33 L305.12,266.49 L306.11,266.66 L307.09,266.82 L308.08,266.97 L309.07,267.13 L310.06,267.28 L311.04,267.44 L312.03,267.59 L313.02,267.74 L314.01,267.89 L315.00,268.04 L315.99,268.19 L316.98,268.34 L317.96,268.49 L318.95,268.64 L319.94,268.78 L320.93,268.93 L321.92,269.07 L322.91,269.22 L323.90,269.36 L324.89,269.50 L325.88,269.65 L326.87,269.79 L327.86,269.93 L328.85,270.08 L329.84,270.22 L330.83,270.36 L331.82,270.51 L332.81,270.65 L333.80,270.80 L334.79,270.95 L335.77,271.10 L336.76,271.25 L337.75,271.40 L338.74,271.55 L339.73,271.70 L340.72,271.85 L341.71,272.00 L342.69,272.15 L343.68,272.30 L344.67,272.45 L345.66,272.60 L346.65,272.75 L347.64,272.90 L348.63,273.05 L349.62,273.19 L350.61,273.34 L351.59,273.49 L352.58,273.64 L353.57,273.79 L354.56,273.94 L355.55,274.09 L356.54,274.24 L357.53,274.39 L358.52,274.53 L359.50,274.68 L360.49,274.83 L361.48,274.98 L362.47,275.12 L363.46,275.27 L364.45,275.41 L365.44,275.54 L366.43,275.68 L367.42,275.81 L368.42,275.93 L369.41,276.06 L370.40,276.18 L371.39,276.30 L372.39,276.42 L373.38,276.54 L374.37,276.66 L375.36,276.78 L376.36,276.90 L377.35,277.02 L378.34,277.14 L379.34,277.27 L380.33,277.39 L381.32,277.51 L382.31,277.64 L383.30,277.76 L384.30,277.89 L385.29,278.01 L386.28,278.14 L387.27,278.27 L388.26,278.39 L389.26,278.52 L390.25,278.65 L391.24,278.77 L392.23,278.90 L393.23,279.02 L394.22,279.13 L395.21,279.24 L396.21,279.34 L397.20,279.44 L398.20,279.52 L399.19,279.59 L400.19,279.65 L401.19,279.71 L402.19,279.77 L403.19,279.82 L404.18,279.87 L405.18,279.92 L406.18,279.98 L407.18,280.03 L408.18,280.08 L409.18,280.12 L410.18,280.17 L411.18,280.21 L412.18,280.25 L413.17,280.28 L414.17,280.31 L415.17,280.34 L416.17,280.36 L417.17,280.38 L418.17,280.39 L419.17,280.41 L420.17,280.42 L421.17,280.42 L422.17,280.40 L423.17,280.38 L424.16,280.33 L425.16,280.27 L426.15,280.18 L427.14,280.07 L428.13,279.93 L429.11,279.76 L430.08,279.57 L431.05,279.34 L432.01,279.09 L432.97,278.82 L433.92,278.52 L434.87,278.21 L435.81,277.88 L436.74,277.53 L437.66,277.15 L438.56,276.75 L439.45,276.32 L440.33,275.85 L441.19,275.35 L442.04,274.84 L442.88,274.30 L443.71,273.75 L444.54,273.20 L445.36,272.63 L446.17,272.05 L446.97,271.45 L447.76,270.84 L448.53,270.21 L449.28,269.56 L450.02,268.89 L450.75,268.20 L451.46,267.51 L452.17,266.81 L452.87,266.09 L453.56,265.37 L454.24,264.64 L454.90,263.90 L455.54,263.14 L456.16,262.36 L456.76,261.57 L457.35,260.76 L457.92,259.94 L458.48,259.11 L459.03,258.28 L459.58,257.45 L460.13,256.61 L460.68,255.78 L461.22,254.94 L461.76,254.09 L462.29,253.25 L462.82,252.40 L463.35,251.55 L463.88,250.70 L464.40,249.85 L464.92,249.00 L465.44,248.14 L465.96,247.28 L466.47,246.43 L466.98,245.56 L467.48,244.70 L467.99,243.84 L468.49,242.98 L468.99,242.11 L469.49,241.24 L469.99,240.38 L470.49,239.51 L470.98,238.64 L471.48,237.77 L471.97,236.90 L472.46,236.03 L472.95,235.16 L473.44,234.29 L473.93,233.41 L474.42,232.54 L474.92,231.68 L475.42,230.81 L475.92,229.94 L476.42,229.08 L476.93,228.22 L477.44,227.36 L477.95,226.50 L478.46,225.64 L478.97,224.78 L479.48,223.92 L479.99,223.06 L480.50,222.20 L481.02,221.34 L481.54,220.49 L482.06,219.64 L482.59,218.79 L483.13,217.95 L483.68,217.11 L484.24,216.29 L484.82,215.48 L485.42,214.68 L486.03,213.89 L486.64,213.10 L487.27,212.33 L487.90,211.55 L488.54,210.79 L489.19,210.02 L489.85,209.27 L490.51,208.53 L491.19,207.79 L491.87,207.06 L492.56,206.34 L493.25,205.62 L493.95,204.91 L494.66,204.19 L495.36,203.49 L496.07,202.78 L496.78,202.08 L497.50,201.38 L498.22,200.69 L498.95,200.01 L499.68,199.33 L500.42,198.65 L501.16,197.97 L501.90,197.30 L502.64,196.64 L503.39,195.97 L504.14,195.31 L504.90,194.66 L505.66,194.02 L506.43,193.38 L507.21,192.75 L507.98,192.12 L508.76,191.49 L509.55,190.87 L510.33,190.25 L511.11,189.63 L511.90,189.01 L512.68,188.39 L513.47,187.77 L514.25,187.15 L515.03,186.52 L515.82,185.90 L516.60,185.28 L517.39,184.66 L518.17,184.04 L518.96,183.42 L519.74,182.81 L520.53,182.19 L521.33,181.58 L522.12,180.98 L522.92,180.38 L523.73,179.79 L524.54,179.22 L525.37,178.65 L526.20,178.10 L527.04,177.56 L527.89,177.04 L528.75,176.52 L529.61,176.02 L530.48,175.52 L531.35,175.04 L532.22,174.55 L533.10,174.06 L533.97,173.57 L534.83,173.08 L535.70,172.58 L536.56,172.07 L537.41,171.56 L538.27,171.04 L539.13,170.54 L540.00,170.04 L540.87,169.56 L541.75,169.08 L542.64,168.62 L543.53,168.17 L544.42,167.73 L545.33,167.31 L546.24,166.90 L547.16,166.52 L548.08,166.17 L549.01,165.83 L549.94,165.52 L550.87,165.24 L551.80,164.96 L552.71,164.70 L553.61,164.45 L554.50,164.20" fill="none" stroke="#000" stroke-width="2.1" stroke-linejoin="round"/>
<rect x="66" y="8.5" width="488.5" height="325.8" fill="none" stroke="#000" stroke-width="2"/>
<line x1="87" y1="325" x2="87" y2="334.3" stroke="#000" stroke-width="1.8"/>
<line x1="148" y1="325" x2="148" y2="334.3" stroke="#000" stroke-width="1.8"/>
<line x1="209" y1="325" x2="209" y2="334.3" stroke="#000" stroke-width="1.8"/>
<line x1="270" y1="325" x2="270" y2="334.3" stroke="#000" stroke-width="1.8"/>
<line x1="331" y1="325" x2="331" y2="334.3" stroke="#000" stroke-width="1.8"/>
<line x1="392" y1="325" x2="392" y2="334.3" stroke="#000" stroke-width="1.8"/>
<line x1="453" y1="325" x2="453" y2="334.3" stroke="#000" stroke-width="1.8"/>
<line x1="514" y1="325" x2="514" y2="334.3" stroke="#000" stroke-width="1.8"/>
<line x1="66" y1="241.2" x2="75" y2="241.2" stroke="#000" stroke-width="1.8"/>
<line x1="66" y1="148.1" x2="75" y2="148.1" stroke="#000" stroke-width="1.8"/>
<line x1="66" y1="55.0" x2="75" y2="55.0" stroke="#000" stroke-width="1.8"/>
<line x1="547" y1="269.1" x2="554.5" y2="269.1" stroke="#000" stroke-width="1.8"/>
<line x1="547" y1="204.0" x2="554.5" y2="204.0" stroke="#000" stroke-width="1.8"/>
<line x1="547" y1="138.8" x2="554.5" y2="138.8" stroke="#000" stroke-width="1.8"/>
<line x1="547" y1="73.7" x2="554.5" y2="73.7" stroke="#000" stroke-width="1.8"/>
<text transform="translate(86.20,358.90) scale(1,1.075)" text-anchor="middle" font-family="Liberation Serif" font-size="24" fill="#000" stroke="#000" stroke-width="0.3">15</text>
<text transform="translate(147.20,358.90) scale(1,1.075)" text-anchor="middle" font-family="Liberation Serif" font-size="24" fill="#000" stroke="#000" stroke-width="0.3">18</text>
<text transform="translate(208.20,358.90) scale(1,1.075)" text-anchor="middle" font-family="Liberation Serif" font-size="24" fill="#000" stroke="#000" stroke-width="0.3">21</text>
<text transform="translate(269.20,358.90) scale(1,1.075)" text-anchor="middle" font-family="Liberation Serif" font-size="24" fill="#000" stroke="#000" stroke-width="0.3">24</text>
<text transform="translate(330.20,358.90) scale(1,1.075)" text-anchor="middle" font-family="Liberation Serif" font-size="24" fill="#000" stroke="#000" stroke-width="0.3">3</text>
<text transform="translate(391.20,358.90) scale(1,1.075)" text-anchor="middle" font-family="Liberation Serif" font-size="24" fill="#000" stroke="#000" stroke-width="0.3">6</text>
<text transform="translate(452.20,358.90) scale(1,1.075)" text-anchor="middle" font-family="Liberation Serif" font-size="24" fill="#000" stroke="#000" stroke-width="0.3">9</text>
<text transform="translate(513.20,358.90) scale(1,1.075)" text-anchor="middle" font-family="Liberation Serif" font-size="24" fill="#000" stroke="#000" stroke-width="0.3">12</text>
<text transform="translate(59.20,342.40) scale(1,1.04)" text-anchor="end" font-family="Liberation Serif" font-size="24" fill="#000" stroke="#000" stroke-width="0.3">0</text>
<text transform="translate(59.20,249.31) scale(1,1.04)" text-anchor="end" font-family="Liberation Serif" font-size="24" fill="#000" stroke="#000" stroke-width="0.3">10</text>
<text transform="translate(59.20,156.23) scale(1,1.04)" text-anchor="end" font-family="Liberation Serif" font-size="24" fill="#000" stroke="#000" stroke-width="0.3">20</text>
<text transform="translate(59.20,63.14) scale(1,1.04)" text-anchor="end" font-family="Liberation Serif" font-size="24" fill="#000" stroke="#000" stroke-width="0.3">30</text>
<text transform="translate(562.30,342.60) scale(1,1.03)" font-family="Liberation Serif" font-size="24" fill="#000" stroke="#000" stroke-width="0.3">0</text>
<text transform="translate(562.30,277.44) scale(1,1.03)" font-family="Liberation Serif" font-size="24" fill="#000" stroke="#000" stroke-width="0.3">100</text>
<text transform="translate(562.30,212.28) scale(1,1.03)" font-family="Liberation Serif" font-size="24" fill="#000" stroke="#000" stroke-width="0.3">200</text>
<text transform="translate(562.30,147.12) scale(1,1.03)" font-family="Liberation Serif" font-size="24" fill="#000" stroke="#000" stroke-width="0.3">300</text>
<text transform="translate(562.30,81.96) scale(1,1.03)" font-family="Liberation Serif" font-size="24" fill="#000" stroke="#000" stroke-width="0.3">400</text>
<text transform="translate(562.30,16.80) scale(1,1.03)" font-family="Liberation Serif" font-size="24" fill="#000" stroke="#000" stroke-width="0.3">500</text>
<text x="132.3" y="43.1" font-family="Liberation Serif" font-size="24.4" fill="#000" stroke="#000" stroke-width="0.3">Leaf</text>
<text x="258.3" y="190.8" font-family="Liberation Serif" font-size="24.4" fill="#000" stroke="#000" stroke-width="0.3">Water column</text>
<text x="335.2" y="267.8" font-family="Liberation Serif" font-size="24.4" fill="#000" stroke="#000" stroke-width="0.3">Root</text>
<text x="220.5" y="281.6" font-family="Liberation Serif" font-size="24.4" fill="#000" stroke="#000" stroke-width="0.3">Sed #1</text>
<text x="277" y="324" font-family="Liberation Serif" font-size="24.4" fill="#000" stroke="#000" stroke-width="0.3">Sed #2</text>
<text x="257" y="391.5" font-family="Liberation Serif" font-size="24" fill="#000" stroke="#000" stroke-width="0.3">Time of day</text>
<text transform="translate(16.2,200.3) rotate(-90) scale(1.05,1)" font-family="Liberation Serif" font-size="24" fill="#000" stroke="#000" stroke-width="0.3">O<tspan font-size="16" dy="5">2</tspan><tspan dy="-5"> (kPa)</tspan></text>
<text transform="translate(619.6,45.3) rotate(90) scale(1.032,1)" font-family="Liberation Serif" font-size="24" fill="#000" stroke="#000" stroke-width="0.3">Irradiance (μmol m<tspan font-size="16.5" dy="-9">−2</tspan><tspan dy="9"> s</tspan><tspan font-size="16.5" dy="-9">−1</tspan><tspan dy="9">)</tspan></text>
</svg>
</body></html>
